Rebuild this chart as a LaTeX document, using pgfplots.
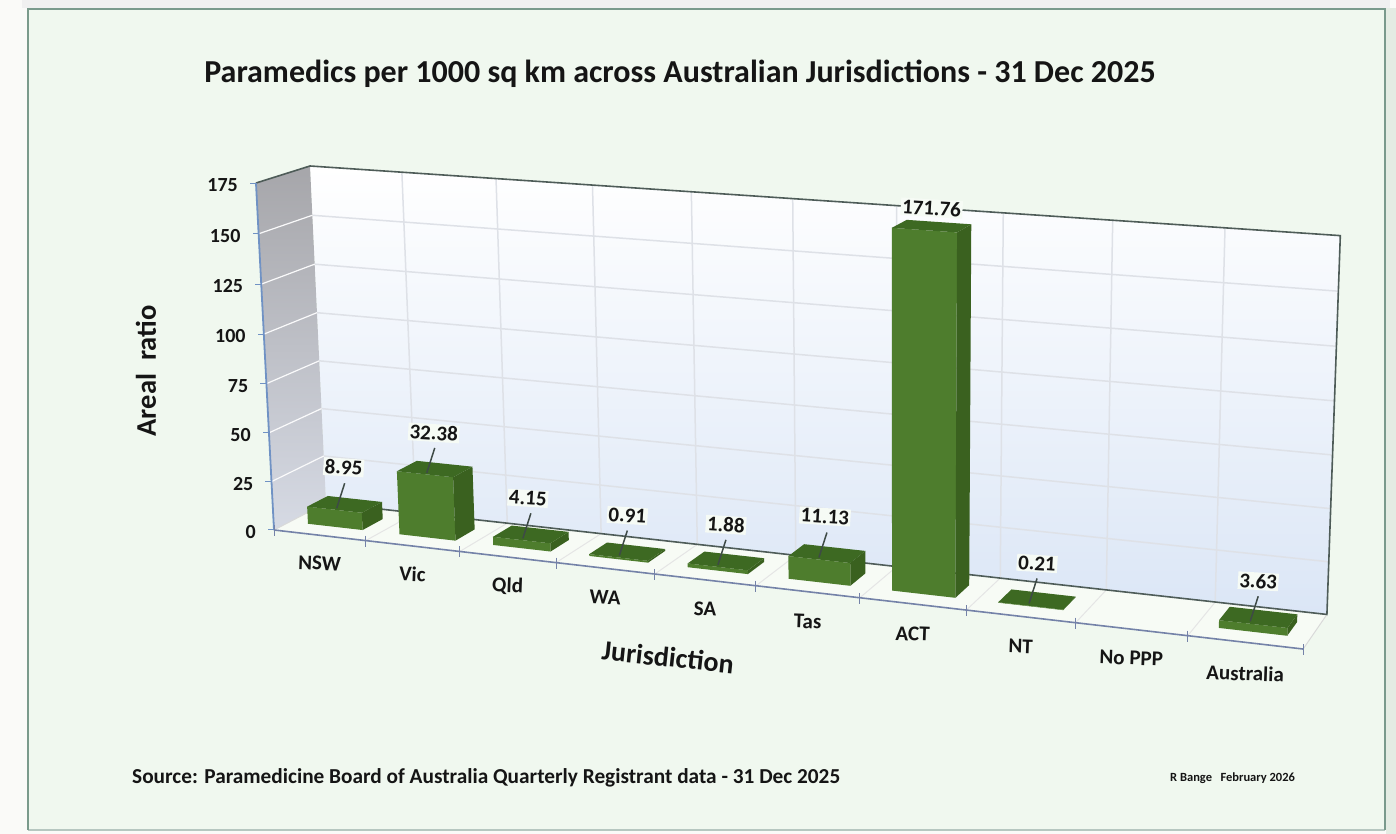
\documentclass[border=0pt]{standalone}
\usepackage{pgfplots}
\usepackage{pgfplotstable}
\usepackage{fontspec}
\pgfplotsset{compat=1.18}
\setmainfont{Carlito}

\definecolor{panel}{HTML}{F0F8EF}
\definecolor{rim}{HTML}{7A9A8C}
\definecolor{outer}{HTML}{FAFAF8}
\definecolor{floorc}{HTML}{F7FBF5}
\definecolor{wallbot}{HTML}{DBE6F6}
\definecolor{wallmid}{HTML}{EEF2FB}
\definecolor{sidetop}{HTML}{A6A6AA}
\definecolor{sidebot}{HTML}{D6DAE4}
\definecolor{gridc}{HTML}{DEE1E7}
\definecolor{edgec}{HTML}{4E5C58}
\definecolor{axisblue}{HTML}{7092C4}
\definecolor{axisfront}{HTML}{7482A8}
\definecolor{barfront}{HTML}{4E7D2D}
\definecolor{barside}{HTML}{3A611F}
\definecolor{bartop}{HTML}{3D6922}
\definecolor{ink}{HTML}{151515}

% Slot, label position and value of each bar
\pgfplotstableread{
slot value lead lx ly
0 8.95   1 -1 37
1 32.38  1 -1 36
2 4.15   1 -3 36
3 0.91   1 0 36
4 1.88   1 0 36
5 11.13  1 -2 37
6 171.76 0 0 18
7 0.21   1 0 36
9 3.63   1 0 36
}\barsdata

% Jurisdictions along the front edge of the floor
\pgfplotstableread[col sep=comma]{
slot,name,drop
0,NSW,28
1,Vic,28
2,Qld,29
3,WA,29
4,SA,29
5,Tas,30
6,ACT,30
7,NT,30
8,No PPP,29
9,Australia,31
}\catdata

% Scale values on the vertical axis
\pgfplotstableread{
z shift
0 -2
25 -2
50 -2
75 -2
100 -2
125 -2
150 -2
175 -2
}\scaledata

% Corner lists of the three visible bar faces
\pgfplotstableread{
a d h
0.2 0.3 0
0.8 0.3 0
0.8 0.3 1
0.2 0.3 1
}\frontface
\pgfplotstableread{
a d h
0.8 0.3 0
0.8 0.7 0
0.8 0.7 1
0.8 0.3 1
}\sideface
\pgfplotstableread{
a d h
0.2 0.3 1
0.8 0.3 1
0.8 0.7 1
0.2 0.7 1
}\topface

% Perspective projection: slot u (0..10), depth d (0..1), value z (0..175)
\pgfplotsset{
  /pgf/declare function={
    Pw(\u,\d,\z)=1-0.0119*\u+0.031*\d-0.00016*\z;
    Hx(\u,\d,\z)=(274+87.4*\u+62.1*\d-0.144*\z)/Pw(\u,\d,\z);
    Hy(\u,\d,\z)=834-(530+4.18*\u-11.4*\d-2.012*\z)/Pw(\u,\d,\z);
  },
  table/proj/.style={
    x expr={Hx(\thisrow{u},\thisrow{d},\thisrow{z})},
    y expr={Hy(\thisrow{u},\thisrow{d},\thisrow{z})},
    row sep=\\,
  },
  table/barproj/.style 2 args={
    x expr={Hx(#1+\thisrow{a},\thisrow{d},#2*\thisrow{h})},
    y expr={Hy(#1+\thisrow{a},\thisrow{d},#2*\thisrow{h})},
  },
  table/leadproj/.style 2 args={
    x expr={Hx(#1+0.5,0.5,#2)-8+8*\thisrow{f}},
    y expr={Hy(#1+0.5,0.5,#2)-4+25*\thisrow{f}},
    row sep=\\,
  },
}

\newcommand{\drawbar}[2]{%
  \addplot[draw=none,fill=barfront,forget plot] table[barproj={#1}{#2}] {\frontface};
  \addplot[draw=none,fill=barside,forget plot] table[barproj={#1}{#2}] {\sideface};
  \addplot[draw=none,fill=bartop,forget plot] table[barproj={#1}{#2}] {\topface};
}
\newcommand{\drawlead}[2]{%
  \addplot[draw=edgec!80!black,line width=1.5pt,forget plot] table[leadproj={#1}{#2}] {f g\\ 0 0\\ 1 0\\};
}

\begin{document}
\begin{tikzpicture}[x=1pt,y=1pt]
  % Page and framed panel
  \fill[outer] (0,0) rectangle (1396,834);
  \fill[black!6] (22,826) rectangle (1390,834);
  \fill[black!5!panel] (1386,0) rectangle (1396,826);
  \fill[panel] (28,4) rectangle (1385,825);
  \draw[rim!55!white,line width=1.2pt] (28,4) -- (1385,4);
  \draw[rim,line width=2pt] (28,4) -- (28,825) -- (1385,825) -- (1385,4);
  \begin{axis}[
    at={(0,0)},anchor=origin,
    scale only axis,width=1396pt,height=834pt,
    xmin=0,xmax=1396,ymin=0,ymax=834,
    hide axis,clip=false,
    every axis plot/.append style={forget plot,mark=none},
  ]
    % Floor, back wall and side wall
    \addplot[draw=none,fill=floorc] table[proj] {u d z\\ 0 0 0\\ 10 0 0\\ 10 1 0\\ 0 1 0\\};
    \addplot[draw=none,top color=white,middle color=wallmid,bottom color=wallbot] table[proj] {u d z\\ 0 1 0\\ 10 1 0\\ 10 1 175\\ 0 1 175\\};
    \addplot[draw=none,top color=sidetop,bottom color=sidebot] table[proj] {u d z\\ 0 0 0\\ 0 1 0\\ 0 1 175\\ 0 0 175\\};

    % Gridlines on the walls and the floor
    \pgfplotsinvokeforeach{25,50,75,100,125,150}{
      \addplot[draw=gridc,line width=1.5pt] table[proj] {u d z\\ 0 1 #1\\ 10 1 #1\\};
      \addplot[draw=white!85!gridc,line width=1.2pt] table[proj] {u d z\\ 0 0 #1\\ 0 1 #1\\};
    }
    \pgfplotsinvokeforeach{1,2,3,4,5,6,7,8,9}{
      \addplot[draw=gridc,line width=1.5pt] table[proj] {u d z\\ #1 1 0\\ #1 1 175\\};
      \addplot[draw=black!10,line width=1pt] table[proj] {u d z\\ #1 0 0\\ #1 1 0\\};
    }

    % Wall outlines and the two axes
    \addplot[draw=black!15,line width=1pt] table[proj] {u d z\\ 0 0 0\\ 0 1 0\\};
    \addplot[draw=black!15,line width=1pt] table[proj] {u d z\\ 10 0 0\\ 10 1 0\\};
    \addplot[draw=edgec,line width=1.6pt] table[proj] {u d z\\ 0 1 0\\ 10 1 0\\ 10 1 175\\ 0 1 175\\ 0 0 175\\};
    \addplot[draw=axisblue,line width=1.8pt] table[proj] {u d z\\ 0 0 0\\ 0 0 175\\};
    \addplot[draw=axisfront,line width=1.6pt] table[proj] {u d z\\ 0 0 0\\ 10 0 0\\};
    \pgfplotsinvokeforeach{0,1,2,3,4,5,6,7,8,9,10}{
      \addplot[draw=axisfront,line width=1pt] table[row sep=\\,
        x expr={Hx(#1,0,0)}, y expr={Hy(#1,0,0)+\thisrow{f}}] {f g\\ 5 0\\ -6 0\\};
    }
    \pgfplotsinvokeforeach{0,25,50,75,100,125,150,175}{
      \addplot[draw=axisblue,line width=1pt] table[row sep=\\,
        x expr={Hx(0,0,#1)-\thisrow{f}}, y expr={Hy(0,0,#1)}] {f g\\ 0 0\\ 6 0\\};
    }

    % Bars, drawn left to right with their leader lines
    \pgfplotsinvokeforeach{0,...,8}{
      \pgfplotstablegetelem{#1}{slot}\of\barsdata \let\curslot\pgfplotsretval
      \pgfplotstablegetelem{#1}{value}\of\barsdata \let\curval\pgfplotsretval
      \pgfplotstablegetelem{#1}{lead}\of\barsdata \let\curlead\pgfplotsretval
      \edef\barcall{\noexpand\drawbar{\curslot}{\curval}}\barcall
      \ifnum\curlead=1
        \edef\leadcall{\noexpand\drawlead{\curslot}{\curval}}\leadcall
      \fi
    }

    % Value labels above the bars
    \addplot[only marks,mark=none,point meta=explicit symbolic,nodes near coords,
      every node near coord/.append style={anchor=center,rotate=-3.5,font=\bfseries\fontsize{21}{21}\selectfont,
        text=ink,fill=panel!60!white,inner sep=1.5pt}]
      table[x expr={Hx(\thisrow{slot}+0.5,0.5,\thisrow{value})+\thisrow{lx}},
            y expr={Hy(\thisrow{slot}+0.5,0.5,\thisrow{value})+\thisrow{ly}},
            meta=value] {\barsdata};

    % Jurisdiction names under the front edge
    \addplot[only marks,mark=none,point meta=explicit symbolic,nodes near coords,
      every node near coord/.append style={anchor=center,rotate=-2,font=\bfseries\fontsize{21}{21}\selectfont,text=ink}]
      table[x expr={Hx(\thisrow{slot}+0.5,0,0)},
            y expr={Hy(\thisrow{slot}+0.5,0,0)-\thisrow{drop}},
            meta=name] {\catdata};

    % Numbers on the vertical axis
    \addplot[only marks,mark=none,point meta=explicit symbolic,nodes near coords,
      every node near coord/.append style={anchor=east,font=\bfseries\fontsize{20}{20}\selectfont,text=ink,inner sep=0pt}]
      table[x expr={Hx(0,0,\thisrow{z})-18},
            y expr={Hy(0,0,\thisrow{z})+\thisrow{shift}},
            meta=z] {\scaledata};

    % Titles and notes
    \node[anchor=center,font=\bfseries\fontsize{32}{32}\selectfont,text=ink] at (axis cs:680,760) {Paramedics per 1000 sq km across Australian Jurisdictions - 31 Dec 2025};
    \node[anchor=center,rotate=90,font=\bfseries\fontsize{28.5}{28.5}\selectfont,text=ink] at (axis cs:146,463) {Areal\ \ ratio};
    \node[anchor=center,rotate=-6,font=\bfseries\fontsize{28}{28}\selectfont,text=ink] at (axis cs:668,177) {Jurisdiction};
    \node[anchor=west,font=\bfseries\fontsize{21.3}{21.3}\selectfont,text=ink,inner sep=0pt] at (axis cs:132,56) {Source: Paramedicine Board of Australia Quarterly Registrant data - 31 Dec 2025};
    \node[anchor=west,font=\bfseries\fontsize{12.5}{12.5}\selectfont,text=ink,inner sep=0pt] at (axis cs:1170,56) {R Bange\ \ \ February 2026};
  \end{axis}
\end{tikzpicture}
\end{document}
